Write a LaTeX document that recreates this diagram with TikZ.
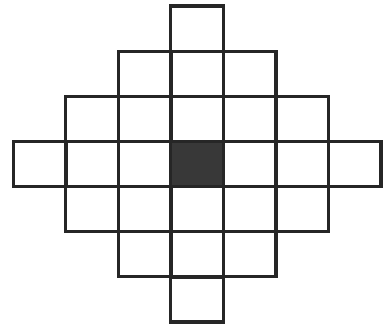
\documentclass[tikz,border=0pt]{standalone}
\usetikzlibrary{positioning}
\begin{document}
\begin{tikzpicture}[
    x=0.75pt, y=-0.75pt,
    cell/.style   = {rectangle, draw=black!85, line width=2.6pt, inner sep=0pt,
                     minimum width=39.4pt, minimum height=33.8pt},
    centre/.style = {cell, fill=black!78}
]
\useasboundingbox (0,0) rectangle (386,326);

% --- Diamond of cells: rows of 1, 3, 5, 7, 5, 3, 1 --------------------------
\foreach \r in {-3,...,3} {
  \pgfmathtruncatemacro\n{3-abs(\r)}
  \foreach \c in {-\n,...,\n} {
    \node[cell] (cell\r\c) at (197+\c*52.5, 164+\r*45.1) {};
  }
}

% --- Dark middle cell ---------------------------------------------------------
\node[centre] (middle) at (197,164) {};

\end{tikzpicture}
\end{document}
